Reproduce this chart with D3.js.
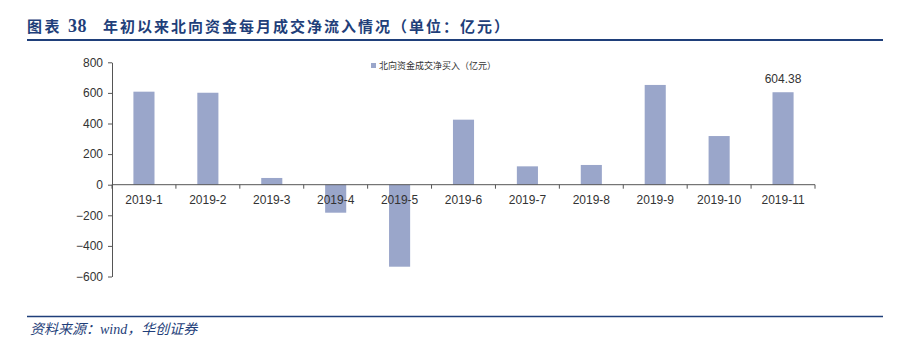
<!DOCTYPE html>
<html>
<head>
<meta charset="utf-8">
<script src="https://cdn.jsdelivr.net/npm/d3@7/dist/d3.min.js"></script>
<style>
  body { margin: 0; background: #fff; }
  svg { display: block; }
</style>
</head>
<body>
<div class="chart"></div>
<script>
const months = ['2019-1','2019-2','2019-3','2019-4','2019-5','2019-6','2019-7','2019-8','2019-9','2019-10','2019-11']
const netInflow = [608, 601, 44, -183, -536, 425, 120, 129, 652, 318, 604.38]
const yTicks = [-600, -400, -200, 0, 200, 400, 600, 800]
const seriesName = '北向资金成交净买入（亿元）'
const titleParts = [['图表', 27], ['38', 68], ['年初以来北向资金每月成交净流入情况（单位：亿元）', 103]]
const sourceText = '资料来源：wind，华创证券'

const width = 912, height = 354
const navy = '#1f3f7a'
const headFont = '"Liberation Serif", "Noto Sans CJK SC", serif'
const svg = d3.select('.chart').append('svg').attr('width', width).attr('height', height)

// header
svg.append('g').selectAll('text')
  .data(titleParts)
  .join('text')
  .attr('x', d => d[1]).attr('y', 32)
  .attr('fill', navy)
  .attr('font-family', headFont)
  .attr('font-weight', 'bold')
  .attr('font-size', d => d[0] === '38' ? '18px' : '15px')
  .attr('letter-spacing', d => d[0].length > 2 ? '2px' : d[0] === '38' ? '0.5px' : '2.4px')
  .text(d => d[0])
svg.append('line').attr('x1', 27).attr('x2', 883).attr('y1', 40).attr('y2', 40)
  .attr('stroke', navy).attr('stroke-width', 2)

// footer
svg.append('line').attr('x1', 27).attr('x2', 883).attr('y1', 316.5).attr('y2', 316.5)
  .attr('stroke', navy).attr('stroke-width', 1.5)
svg.append('text')
  .attr('x', 30).attr('y', 334)
  .attr('fill', navy)
  .attr('font-family', headFont)
  .attr('font-style', 'italic')
  .attr('font-size', '14px')
  .text(sourceText)

// scales
const x = d3.scaleBand().domain(months).range([112, 815]).paddingInner(0.67).paddingOuter(0.335)
const y = d3.scaleLinear().domain([-600, 800]).range([276.5, 62.3])

const axisFont = '"Liberation Sans", Arial, sans-serif'

// y axis
const yAxis = svg.append('g')
  .attr('transform', 'translate(112,0)')
  .call(d3.axisLeft(y).tickValues(yTicks).tickSize(4).tickSizeOuter(0))
yAxis.select('.domain').attr('stroke', '#555')
yAxis.selectAll('.tick line').attr('stroke', '#555')
yAxis.selectAll('.tick text')
  .attr('font-family', axisFont).attr('font-size', '12px').attr('fill', '#333').attr('x', -9)

// bars
svg.append('g').selectAll('rect')
  .data(netInflow)
  .join('rect')
  .attr('x', (d, i) => x(months[i]))
  .attr('width', x.bandwidth())
  .attr('y', d => y(Math.max(0, d)))
  .attr('height', d => Math.abs(y(d) - y(0)))
  .attr('fill', '#9aa6ca')

// x axis at zero
const xAxisG = svg.append('g').attr('transform', `translate(0,${y(0)})`)
xAxisG.append('line').attr('x1', 112).attr('x2', 815).attr('stroke', '#555')
const step = x.step()
xAxisG.selectAll('.tk')
  .data(d3.range(months.length + 1))
  .join('line')
  .attr('class', 'tk')
  .attr('x1', i => 112 + i * step).attr('x2', i => 112 + i * step)
  .attr('y1', 0).attr('y2', 4)
  .attr('stroke', '#555')
xAxisG.selectAll('.lbl')
  .data(months)
  .join('text')
  .attr('class', 'lbl')
  .attr('x', d => x(d) + x.bandwidth() / 2)
  .attr('y', 19)
  .attr('text-anchor', 'middle')
  .attr('font-family', axisFont).attr('font-size', '12px').attr('fill', '#333')
  .text(d => d)

// label on last bar
const last = netInflow.length - 1
svg.append('text')
  .attr('x', x(months[last]) + x.bandwidth() / 2)
  .attr('y', y(netInflow[last]) - 9)
  .attr('text-anchor', 'middle')
  .attr('font-family', axisFont).attr('font-size', '12px').attr('fill', '#333')
  .text(netInflow[last].toFixed(2))

// legend
svg.append('rect').attr('x', 371).attr('y', 63).attr('width', 5).attr('height', 5).attr('fill', '#9aa6ca')
svg.append('text')
  .attr('x', 379).attr('y', 69)
  .attr('font-family', '"Noto Sans CJK SC", sans-serif')
  .attr('font-size', '9px').attr('fill', '#333')
  .text(seriesName)
</script>
</body>
</html>
